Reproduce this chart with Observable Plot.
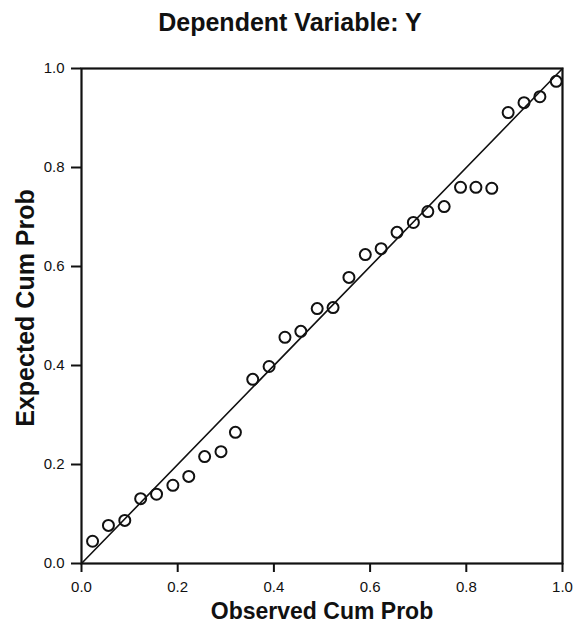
<!DOCTYPE html>
<html>
<head>
<meta charset="utf-8">
<script src="https://cdn.jsdelivr.net/npm/d3@7"></script>
<script src="https://cdn.jsdelivr.net/npm/@observablehq/plot@0.6"></script>
<style>
  body { margin: 0; background: #fff; font-family: "Liberation Sans", Arial, sans-serif; }
  #title { width: 580px; height: 45px; text-align: center; font-weight: bold; font-size: 25px; line-height: 45px; color: #111; white-space: nowrap; }
</style>
</head>
<body>
<div id="title">Dependent Variable: Y</div>
<div id="chart"></div>
<script>
const observed = [0.023, 0.056, 0.090, 0.123, 0.156, 0.190, 0.223, 0.256, 0.290, 0.320,
                  0.356, 0.390, 0.423, 0.456, 0.490, 0.523, 0.556, 0.590, 0.623, 0.656,
                  0.690, 0.720, 0.754, 0.788, 0.820, 0.853, 0.887, 0.920, 0.953, 0.987];
const expected = [0.045, 0.077, 0.087, 0.131, 0.140, 0.158, 0.176, 0.216, 0.226, 0.265,
                  0.372, 0.398, 0.457, 0.469, 0.515, 0.517, 0.578, 0.624, 0.636, 0.669,
                  0.689, 0.711, 0.721, 0.760, 0.760, 0.758, 0.911, 0.931, 0.943, 0.974];
const ticks = [0, 0.2, 0.4, 0.6, 0.8, 1.0];
const refLine = [0, 1];

const points = observed.map((x, i) => ({x, y: expected[i]}));
const diag = refLine.map(v => ({x: v, y: v}));

const chart = Plot.plot({
  width: 574,
  height: 581,
  marginLeft: 81,
  marginRight: 12,
  marginTop: 23,
  marginBottom: 63,
  style: {fontFamily: "'Liberation Sans', Arial, sans-serif", fontSize: "15px", color: "#111", background: "#fff", overflow: "visible"},
  x: {domain: [0, 1], ticks, tickFormat: d3.format(".1f"), label: null},
  y: {domain: [0, 1], ticks, tickFormat: d3.format(".1f"), label: null},
  marks: [
    Plot.frame({stroke: "#111", strokeWidth: 2.2}),
    Plot.axisX({ticks, tickFormat: d3.format(".1f"), tickSize: 9, tickPadding: 9, stroke: "#111", strokeWidth: 2, fontSize: 15, label: null}),
    Plot.axisY({ticks, tickFormat: d3.format(".1f"), tickSize: 10, tickPadding: 7, stroke: "#111", strokeWidth: 2, fontSize: 15, label: null}),
    Plot.line(diag, {x: "x", y: "y", stroke: "#111", strokeWidth: 1.6}),
    Plot.dot(points, {x: "x", y: "y", r: 5.5, stroke: "#111", strokeWidth: 2, fill: "none"}),
    Plot.text(["Observed Cum Prob"], {frameAnchor: "bottom", textAnchor: "middle", lineAnchor: "middle", dy: 48, fontWeight: "bold", fontSize: 23, fill: "#111"}),
    Plot.text(["Expected Cum Prob"], {frameAnchor: "left", textAnchor: "middle", lineAnchor: "middle", dx: -56, dy: -8, rotate: -90, fontWeight: "bold", fontSize: 25, fill: "#111"})
  ]
});
document.getElementById("chart").appendChild(chart);
</script>
</body>
</html>
